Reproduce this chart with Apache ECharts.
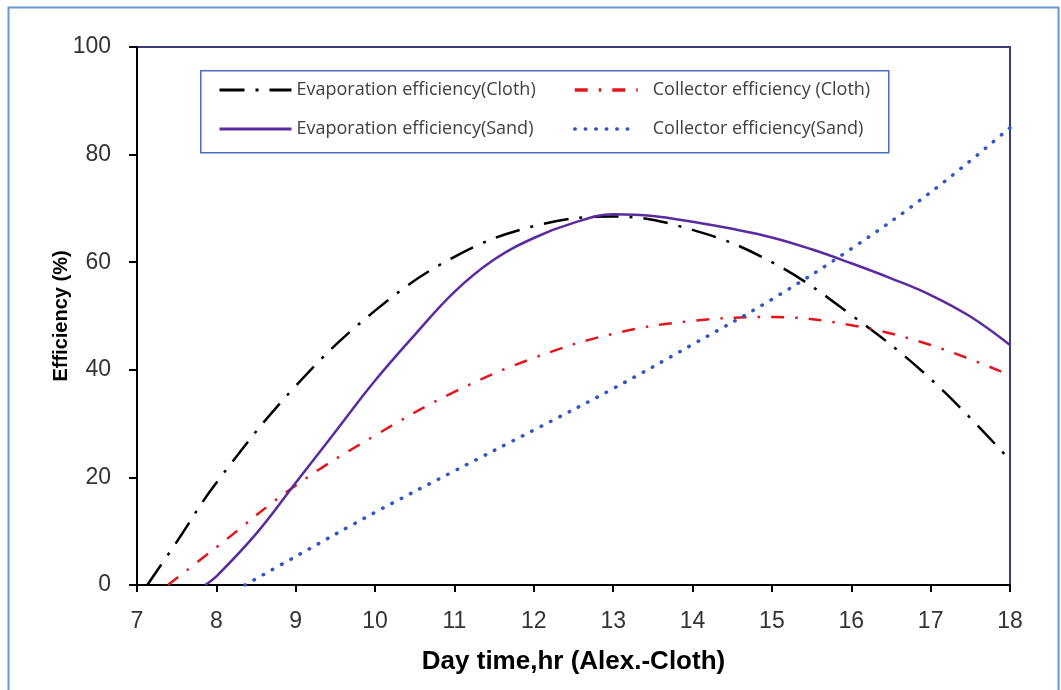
<!DOCTYPE html>
<html>
<head>
<meta charset="utf-8">
<script src="https://cdn.jsdelivr.net/npm/echarts@6/dist/echarts.min.js"></script>
<style>
html,body{margin:0;padding:0;background:#fff;}
#c{width:1061px;height:690px;}
</style>
</head>
<body>
<div id="c"></div>
<script>
// ---- data ----
const seriesNames = [
  'Evaporation efficiency(Cloth)',
  'Collector efficiency (Cloth)',
  'Evaporation efficiency(Sand)',
  'Collector efficiency(Sand)'
];
const evapClothHour = [7.13, 7.5, 8, 9, 10, 11, 12, 13, 14, 15, 16, 17, 18];
const evapClothEff  = [0, 8, 19, 37, 51, 61, 66.7, 68.5, 66, 60, 50.2, 38.3, 23.2];

const collClothHour = [7.39, 8, 9, 10, 11, 12, 13, 14, 15, 16, 17, 18];
const collClothEff  = [0, 7, 18.5, 27.8, 35.9, 42.2, 46.7, 49.1, 49.8, 48.3, 44.6, 39];

const evapSandHour = [7.86, 8, 8.5, 9, 9.5, 10, 10.5, 11, 11.5, 12, 12.5, 13, 13.5, 14, 14.5, 15, 15.5, 16, 16.5, 17, 17.5, 18];
const evapSandEff  = [0, 1.6, 9.5, 19, 28.5, 38, 46.5, 54.5, 60.5, 64.5, 67.3, 68.9, 68.6, 67.5, 66.2, 64.6, 62.4, 59.8, 57, 53.9, 49.9, 44.6];

const collSandHour = [8.36, 9, 10, 11, 12, 13, 14, 15, 16, 17, 18];
const collSandEff  = [0, 5.3, 13.5, 21.2, 28.8, 36.5, 44.7, 53.1, 62.5, 73, 85];

const xTicks = [7, 8, 9, 10, 11, 12, 13, 14, 15, 16, 17, 18];
const yTicks = [0, 20, 40, 60, 80, 100];

const xTitle = 'Day time,hr (Alex.-Cloth)';
const yTitle = 'Efficiency (%)';

function zip(xs, ys) { return xs.map((x, i) => [x, ys[i]]); }

const chart = echarts.init(document.getElementById('c'), null, {renderer: 'canvas'});

const legendText = {fontFamily: 'Open Sans', fontSize: 18, color: '#404040'};
const hiddenSymbol = {color: 'rgba(0,0,0,0)', borderColor: 'rgba(0,0,0,0)', borderWidth: 0, opacity: 0};

const option = {
  animation: false,
  backgroundColor: '#fff',
  grid: {
    left: 137, right: 51, top: 47, bottom: 105,
    show: true, borderColor: '#3b3b78', borderWidth: 2, backgroundColor: 'transparent'
  },
  graphic: [
    {type: 'rect', left: 6, top: 5, shape: {width: 1050, height: 700},
     style: {fill: 'none', stroke: '#6a96d6', lineWidth: 2}, silent: true, z: 0},
    {type: 'rect', left: 200, top: 70, shape: {width: 688, height: 82},
     style: {fill: '#fff', stroke: '#4a6cc4', lineWidth: 1.5}, silent: true, z: 5}
  ],
  legend: [
    {
      data: [seriesNames[0], seriesNames[2]],
      orient: 'vertical', left: 218, top: 81, itemGap: 21,
      itemWidth: 72, itemHeight: 18, textStyle: legendText, z: 10, padding: 0,
      itemStyle: hiddenSymbol, lineStyle: {width: 3}
    },
    {
      data: [seriesNames[1], seriesNames[3]],
      orient: 'vertical', left: 573, top: 81, itemGap: 21,
      itemWidth: 63, itemHeight: 18, textStyle: Object.assign({padding: [0, 0, 0, 10]}, legendText), z: 10, padding: 0,
      itemStyle: hiddenSymbol, lineStyle: {width: 3.5}
    }
  ],
  xAxis: {
    type: 'value', min: 7, max: 18, interval: 1,
    name: xTitle, nameLocation: 'middle', nameGap: 64,
    nameTextStyle: {fontFamily: 'Liberation Sans', fontWeight: 'bold', fontSize: 26, color: '#000'},
    axisLine: {show: true, onZero: false, lineStyle: {color: '#000', width: 2}},
    axisTick: {show: true, length: 7, lineStyle: {color: '#000', width: 2}},
    splitLine: {show: false},
    axisLabel: {fontFamily: 'Liberation Sans', fontSize: 23, color: '#333', margin: 25,
      formatter: v => (xTicks.indexOf(v) >= 0 ? String(v) : '')}
  },
  yAxis: {
    type: 'value', min: 0, max: 100, interval: 20,
    name: yTitle, nameLocation: 'middle', nameGap: 66, nameRotate: 90, nameMoveOverlap: false,
    nameTextStyle: {fontFamily: 'Liberation Sans', fontWeight: 'bold', fontSize: 20, color: '#000'},
    axisLine: {show: true, lineStyle: {color: '#000', width: 2}},
    axisTick: {show: true, length: 8, lineStyle: {color: '#000', width: 2}},
    splitLine: {show: false},
    axisLabel: {fontFamily: 'Liberation Sans', fontSize: 23, color: '#333', margin: 26,
      formatter: v => (yTicks.indexOf(v) >= 0 ? String(v) : '')}
  },
  series: [
    {
      name: seriesNames[0], type: 'line', data: zip(evapClothHour, evapClothEff),
      smooth: 0.4, symbol: 'none', z: 3,
      lineStyle: {color: '#000', width: 2.5, type: [25, 11, 3, 11], cap: 'butt'},
      itemStyle: {color: '#000'}
    },
    {
      name: seriesNames[1], type: 'line', data: zip(collClothHour, collClothEff),
      smooth: 0.4, symbol: 'none', z: 3,
      lineStyle: {color: '#e3161b', width: 2.5, type: [13, 11, 2.5, 11], cap: 'butt'},
      itemStyle: {color: '#e3161b'}
    },
    {
      name: seriesNames[2], type: 'line', data: zip(evapSandHour, evapSandEff),
      smooth: 0.4, symbol: 'none', z: 3,
      lineStyle: {color: '#5a2aa0', width: 2.5, type: 'solid'},
      itemStyle: {color: '#5a2aa0'}
    },
    {
      name: seriesNames[3], type: 'line', data: zip(collSandHour, collSandEff),
      smooth: 0.4, symbol: 'none', z: 3,
      lineStyle: {color: '#2f55c8', width: 3.5, type: [0.5, 10], cap: 'round'},
      itemStyle: {color: '#2f55c8'}
    }
  ]
};
chart.setOption(option);
</script>
</body>
</html>
